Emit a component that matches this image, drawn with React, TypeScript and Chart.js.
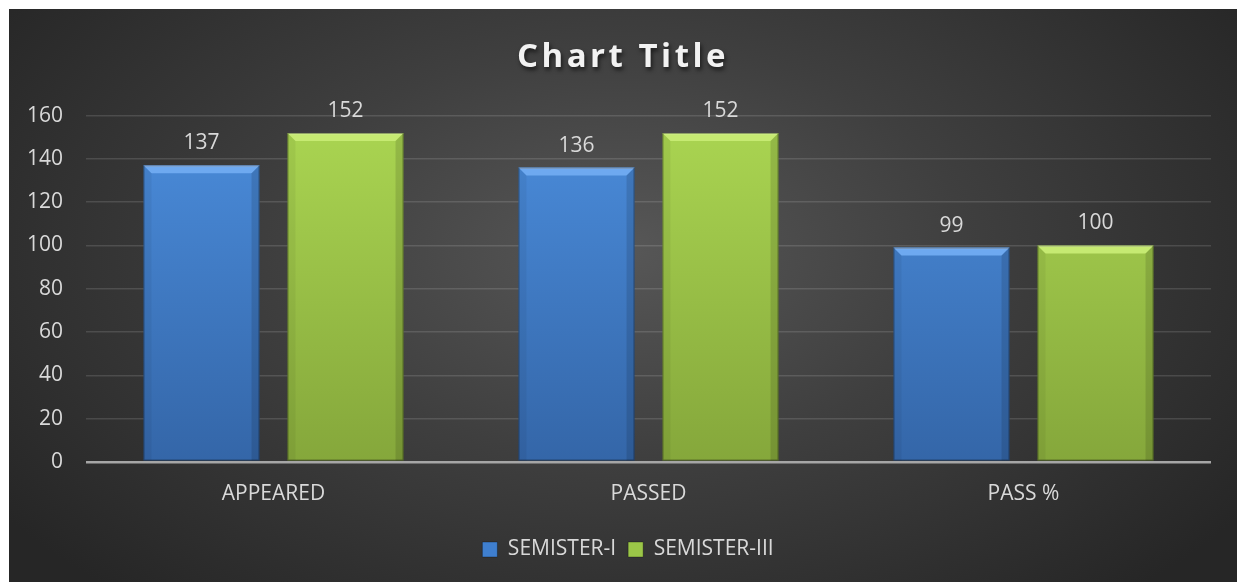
import React, { useEffect, useRef } from "react";
import { Chart, registerables } from "chart.js";

Chart.register(...registerables);

const categories = ["APPEARED", "PASSED", "PASS %"];
const seriesNames = ["SEMISTER-I", "SEMISTER-III"];
const semister1 = [137, 136, 99];
const semister3 = [152, 152, 100];
const yMin = 0;
const yMax = 160;
const yStep = 20;
const titleText = "Chart Title";

const FONT = "'Open Sans', 'Noto Sans', sans-serif";
const TEXT = "#d9d9d9";

const palette = [
  { top: "#4b8ddc", bottom: "#3466a8", bevel: "#6ea9f0", solid: "#3f7fcf" },
  { top: "#abd652", bottom: "#85a73b", bevel: "#c6ea72", solid: "#9bc648" },
];

function barGradient(ctx: any, i: number) {
  const chart = ctx.chart;
  const area = chart.chartArea;
  if (!area) return palette[i].solid;
  const g = chart.ctx.createLinearGradient(0, area.top, 0, area.bottom);
  g.addColorStop(0, palette[i].top);
  g.addColorStop(1, palette[i].bottom);
  return g;
}

const bevelPlugin = {
  id: "bevel",
  afterDatasetsDraw(chart: any) {
    const ctx = chart.ctx;
    chart.data.datasets.forEach((_: any, di: number) => {
      const meta = chart.getDatasetMeta(di);
      meta.data.forEach((el: any) => {
        const p = el.getProps(["x", "y", "base", "width"], true);
        const l = p.x - p.width / 2;
        const r = p.x + p.width / 2;
        const t = p.y;
        const b = p.base;
        const bv = 8;
        ctx.save();
        ctx.beginPath();
        ctx.moveTo(l, t);
        ctx.lineTo(r, t);
        ctx.lineTo(r - bv, t + bv);
        ctx.lineTo(l + bv, t + bv);
        ctx.closePath();
        ctx.fillStyle = palette[di].bevel;
        ctx.fill();
        ctx.beginPath();
        ctx.moveTo(r, t);
        ctx.lineTo(r, b);
        ctx.lineTo(r - bv, b);
        ctx.lineTo(r - bv, t + bv);
        ctx.closePath();
        ctx.fillStyle = "rgba(0,0,0,0.12)";
        ctx.fill();
        ctx.beginPath();
        ctx.moveTo(l, t);
        ctx.lineTo(l + bv, t + bv);
        ctx.lineTo(l + bv, b);
        ctx.lineTo(l, b);
        ctx.closePath();
        ctx.fillStyle = "rgba(0,0,0,0.05)";
        ctx.fill();
        ctx.fillStyle = "rgba(255,255,255,0.25)";
        ctx.fillRect(l + 1, t, r - l - 2, 1.5);
        ctx.strokeStyle = "rgba(0,0,0,0.35)";
        ctx.lineWidth = 1;
        ctx.strokeRect(l + 0.5, t + 0.5, r - l - 1, b - t - 1);
        ctx.restore();
      });
    });
  },
};

const valueLabelPlugin = {
  id: "valueLabels",
  afterDatasetsDraw(chart: any) {
    const ctx = chart.ctx;
    ctx.save();
    ctx.font = `21px ${FONT}`;
    ctx.fillStyle = TEXT;
    ctx.textAlign = "center";
    ctx.textBaseline = "middle";
    chart.data.datasets.forEach((ds: any, di: number) => {
      const meta = chart.getDatasetMeta(di);
      meta.data.forEach((el: any, i: number) => {
        const p = el.getProps(["x", "y"], true);
        ctx.fillText(String(ds.data[i]), p.x, p.y - 22);
      });
    });
    ctx.restore();
  },
};

// Centre title and legend on the full chart width (layout padding shifts them),
// add letter spacing and a soft shadow to the title.
const boxStylePlugin = {
  id: "boxStyle",
  afterInit(chart: any) {
    const tb = chart.titleBlock;
    if (tb && !tb.__wrapped) {
      const orig = tb.draw.bind(tb);
      tb.draw = function (...args: any[]) {
        const ctx = chart.ctx;
        ctx.save();
        ctx.translate(13, 0);
        try {
          (ctx as any).letterSpacing = "3.5px";
        } catch (e) {}
        ctx.shadowColor = "rgba(0,0,0,0.6)";
        ctx.shadowBlur = 4;
        ctx.shadowOffsetX = 1.5;
        ctx.shadowOffsetY = 2.5;
        orig(...args);
        ctx.restore();
        try {
          (ctx as any).letterSpacing = "0px";
        } catch (e) {}
      };
      tb.__wrapped = true;
    }
    const lg = chart.legend;
    if (lg && !lg.__wrapped) {
      const origL = lg.draw.bind(lg);
      lg.draw = function (...args: any[]) {
        const ctx = chart.ctx;
        ctx.save();
        ctx.translate(18, 0);
        origL(...args);
        ctx.restore();
      };
      lg.__wrapped = true;
    }
  },
};

export default function App() {
  const ref = useRef<HTMLCanvasElement | null>(null);

  useEffect(() => {
    document.body.style.overflow = "hidden";
    if (!ref.current) return;
    const chart = new Chart(ref.current, {
      type: "bar",
      data: {
        labels: categories,
        datasets: [
          {
            label: seriesNames[0],
            data: semister1,
            backgroundColor: (c: any) => barGradient(c, 0),
            borderWidth: 0,
            categoryPercentage: 0.768,
            barPercentage: 0.806,
          },
          {
            label: seriesNames[1],
            data: semister3,
            backgroundColor: (c: any) => barGradient(c, 1),
            borderWidth: 0,
            categoryPercentage: 0.768,
            barPercentage: 0.806,
          },
        ],
      },
      options: {
        animation: false,
        responsive: true,
        maintainAspectRatio: false,
        layout: { padding: { left: 0, right: 26, top: 0, bottom: 12 } },
        scales: {
          x: {
            grid: { display: false, drawTicks: false },
            border: { display: false },
            ticks: { color: TEXT, font: { family: FONT, size: 21 }, padding: 20 },
          },
          y: {
            min: yMin,
            max: yMax,
            border: { display: false },
            grid: {
              drawTicks: false,
              color: (c: any) => (c.tick && c.tick.value === 0 ? "#a6a6a6" : "rgba(255,255,255,0.13)"),
              lineWidth: (c: any) => (c.tick && c.tick.value === 0 ? 2.5 : 1.5),
            },
            ticks: {
              stepSize: yStep,
              color: TEXT,
              font: { family: FONT, size: 21 },
              padding: 23,
            },
            afterFit: (s: any) => {
              s.width = 77;
            },
          },
        },
        plugins: {
          title: {
            display: true,
            text: titleText,
            color: "#f2f2f2",
            font: { family: FONT, size: 33, weight: "bold" },
            padding: { top: 29, bottom: 38 },
          },
          legend: {
            position: "bottom",
            labels: {
              color: TEXT,
              font: { family: FONT, size: 21 },
              boxWidth: 15,
              boxHeight: 15,
              padding: 12,
              generateLabels: (chart: any) => {
                const items = Chart.defaults.plugins.legend.labels.generateLabels(chart);
                items.forEach((it: any, i: number) => {
                  it.fillStyle = palette[i].solid;
                  it.strokeStyle = "rgba(0,0,0,0.3)";
                  it.lineWidth = 1;
                });
                return items;
              },
            },
          },
          tooltip: { enabled: false },
        },
      },
      plugins: [boxStylePlugin, bevelPlugin, valueLabelPlugin],
    } as any);
    return () => chart.destroy();
  }, []);

  return (
    <div
      style={{
        position: "fixed",
        left: 9,
        top: 9,
        width: 1228,
        height: 573,
        background:
          "radial-gradient(ellipse 62% 80% at 50% 42%, #575757 0%, #3f3f3f 45%, #262626 100%)",
      }}
    >
      <canvas ref={ref} />
    </div>
  );
}
